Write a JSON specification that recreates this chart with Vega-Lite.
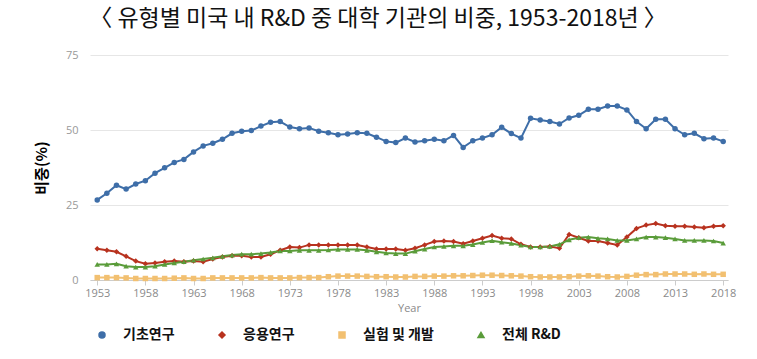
{
  "$schema": "https://vega.github.io/schema/vega-lite/v6.json",
  "width": 638,
  "height": 225,
  "autosize": {"type": "none"},
  "padding": {"left": 90, "top": 55, "right": 29, "bottom": 79},
  "background": "white",
  "title": {
    "text": "〈 유형별 미국 내 R&D 중 대학 기관의 비중, 1953-2018년 〉",
    "font": "Noto Sans CJK KR",
    "fontSize": 23,
    "fontWeight": "normal",
    "color": "#111111",
    "anchor": "middle",
    "dx": -31,
    "offset": 18
  },
  "data": {
    "values": [
      {"Year": 1953, "기초연구": 26.7, "응용연구": 10.4, "실험 및 개발": 0.8, "전체 R&D": 5.2},
      {"Year": 1954, "기초연구": 28.9, "응용연구": 9.9, "실험 및 개발": 0.8, "전체 R&D": 5.2},
      {"Year": 1955, "기초연구": 31.6, "응용연구": 9.4, "실험 및 개발": 0.8, "전체 R&D": 5.4},
      {"Year": 1956, "기초연구": 30.3, "응용연구": 7.9, "실험 및 개발": 0.7, "전체 R&D": 4.6},
      {"Year": 1957, "기초연구": 32.0, "응용연구": 6.3, "실험 및 개발": 0.5, "전체 R&D": 4.3},
      {"Year": 1958, "기초연구": 33.1, "응용연구": 5.4, "실험 및 개발": 0.5, "전체 R&D": 4.3},
      {"Year": 1959, "기초연구": 35.6, "응용연구": 5.7, "실험 및 개발": 0.5, "전체 R&D": 4.6},
      {"Year": 1960, "기초연구": 37.4, "응용연구": 6.1, "실험 및 개발": 0.5, "전체 R&D": 5.2},
      {"Year": 1961, "기초연구": 39.2, "응용연구": 6.3, "실험 및 개발": 0.6, "전체 R&D": 5.7},
      {"Year": 1962, "기초연구": 40.2, "응용연구": 6.1, "실험 및 개발": 0.7, "전체 R&D": 6.1},
      {"Year": 1963, "기초연구": 42.7, "응용연구": 6.3, "실험 및 개발": 0.5, "전체 R&D": 6.6},
      {"Year": 1964, "기초연구": 44.7, "응용연구": 6.1, "실험 및 개발": 0.5, "전체 R&D": 7.0},
      {"Year": 1965, "기초연구": 45.6, "응용연구": 7.0, "실험 및 개발": 0.7, "전체 R&D": 7.4},
      {"Year": 1966, "기초연구": 46.9, "응용연구": 7.7, "실험 및 개발": 0.7, "전체 R&D": 7.9},
      {"Year": 1967, "기초연구": 48.9, "응용연구": 8.1, "실험 및 개발": 0.7, "전체 R&D": 8.3},
      {"Year": 1968, "기초연구": 49.6, "응용연구": 8.1, "실험 및 개발": 0.7, "전체 R&D": 8.6},
      {"Year": 1969, "기초연구": 49.8, "응용연구": 7.7, "실험 및 개발": 0.7, "전체 R&D": 8.6},
      {"Year": 1970, "기초연구": 51.3, "응용연구": 7.7, "실험 및 개발": 0.8, "전체 R&D": 8.8},
      {"Year": 1971, "기초연구": 52.6, "응용연구": 8.6, "실험 및 개발": 0.7, "전체 R&D": 9.2},
      {"Year": 1972, "기초연구": 52.8, "응용연구": 9.9, "실험 및 개발": 0.7, "전체 R&D": 9.7},
      {"Year": 1973, "기초연구": 51.0, "응용연구": 11.0, "실험 및 개발": 0.7, "전체 R&D": 9.7},
      {"Year": 1974, "기초연구": 50.4, "응용연구": 10.8, "실험 및 개발": 0.8, "전체 R&D": 9.9},
      {"Year": 1975, "기초연구": 50.7, "응용연구": 11.7, "실험 및 개발": 0.8, "전체 R&D": 9.9},
      {"Year": 1976, "기초연구": 49.6, "응용연구": 11.7, "실험 및 개발": 0.8, "전체 R&D": 9.9},
      {"Year": 1977, "기초연구": 49.1, "응용연구": 11.7, "실험 및 개발": 1.1, "전체 R&D": 10.0},
      {"Year": 1978, "기초연구": 48.4, "응용연구": 11.7, "실험 및 개발": 1.3, "전체 R&D": 10.2},
      {"Year": 1979, "기초연구": 48.7, "응용연구": 11.7, "실험 및 개발": 1.3, "전체 R&D": 10.2},
      {"Year": 1980, "기초연구": 49.1, "응용연구": 11.7, "실험 및 개발": 1.3, "전체 R&D": 10.2},
      {"Year": 1981, "기초연구": 48.9, "응용연구": 11.0, "실험 및 개발": 1.2, "전체 R&D": 9.9},
      {"Year": 1982, "기초연구": 47.6, "응용연구": 10.3, "실험 및 개발": 1.1, "전체 R&D": 9.4},
      {"Year": 1983, "기초연구": 46.2, "응용연구": 10.3, "실험 및 개발": 1.1, "전체 R&D": 9.0},
      {"Year": 1984, "기초연구": 45.8, "응용연구": 10.3, "실험 및 개발": 1.0, "전체 R&D": 8.8},
      {"Year": 1985, "기초연구": 47.3, "응용연구": 9.9, "실험 및 개발": 1.0, "전체 R&D": 8.8},
      {"Year": 1986, "기초연구": 46.0, "응용연구": 10.6, "실험 및 개발": 1.2, "전체 R&D": 9.6},
      {"Year": 1987, "기초연구": 46.4, "응용연구": 11.7, "실험 및 개발": 1.2, "전체 R&D": 10.3},
      {"Year": 1988, "기초연구": 46.9, "응용연구": 12.8, "실험 및 개발": 1.3, "전체 R&D": 11.0},
      {"Year": 1989, "기초연구": 46.4, "응용연구": 13.0, "실험 및 개발": 1.3, "전체 R&D": 11.2},
      {"Year": 1990, "기초연구": 48.2, "응용연구": 12.8, "실험 및 개발": 1.4, "전체 R&D": 11.4},
      {"Year": 1991, "기초연구": 44.2, "응용연구": 12.1, "실험 및 개발": 1.4, "전체 R&D": 11.4},
      {"Year": 1992, "기초연구": 46.4, "응용연구": 13.0, "실험 및 개발": 1.5, "전체 R&D": 11.8},
      {"Year": 1993, "기초연구": 47.3, "응용연구": 13.9, "실험 및 개발": 1.6, "전체 R&D": 12.5},
      {"Year": 1994, "기초연구": 48.4, "응용연구": 14.8, "실험 및 개발": 1.6, "전체 R&D": 13.1},
      {"Year": 1995, "기초연구": 50.9, "응용연구": 13.9, "실험 및 개발": 1.5, "전체 R&D": 12.6},
      {"Year": 1996, "기초연구": 48.8, "응용연구": 13.7, "실험 및 개발": 1.4, "전체 R&D": 12.2},
      {"Year": 1997, "기초연구": 47.3, "응용연구": 11.9, "실험 및 개발": 1.3, "전체 R&D": 11.6},
      {"Year": 1998, "기초연구": 53.9, "응용연구": 11.0, "실험 및 개발": 1.1, "전체 R&D": 11.0},
      {"Year": 1999, "기초연구": 53.3, "응용연구": 11.0, "실험 및 개발": 1.0, "전체 R&D": 11.0},
      {"Year": 2000, "기초연구": 52.8, "응용연구": 11.2, "실험 및 개발": 1.0, "전체 R&D": 11.2},
      {"Year": 2001, "기초연구": 52.0, "응용연구": 10.6, "실험 및 개발": 1.0, "전체 R&D": 11.9},
      {"Year": 2002, "기초연구": 54.0, "응용연구": 15.2, "실험 및 개발": 1.1, "전체 R&D": 13.4},
      {"Year": 2003, "기초연구": 54.9, "응용연구": 14.1, "실험 및 개발": 1.3, "전체 R&D": 14.1},
      {"Year": 2004, "기초연구": 56.9, "응용연구": 13.0, "실험 및 개발": 1.4, "전체 R&D": 14.3},
      {"Year": 2005, "기초연구": 56.9, "응용연구": 13.0, "실험 및 개발": 1.3, "전체 R&D": 13.9},
      {"Year": 2006, "기초연구": 58.0, "응용연구": 12.3, "실험 및 개발": 1.1, "전체 R&D": 13.7},
      {"Year": 2007, "기초연구": 58.0, "응용연구": 11.7, "실험 및 개발": 1.0, "전체 R&D": 13.2},
      {"Year": 2008, "기초연구": 56.7, "응용연구": 14.3, "실험 및 개발": 1.2, "전체 R&D": 13.2},
      {"Year": 2009, "기초연구": 52.8, "응용연구": 17.2, "실험 및 개발": 1.6, "전체 R&D": 13.7},
      {"Year": 2010, "기초연구": 50.4, "응용연구": 18.3, "실험 및 개발": 1.8, "전체 R&D": 14.3},
      {"Year": 2011, "기초연구": 53.6, "응용연구": 18.8, "실험 및 개발": 1.8, "전체 R&D": 14.3},
      {"Year": 2012, "기초연구": 53.6, "응용연구": 18.1, "실험 및 개발": 2.0, "전체 R&D": 14.1},
      {"Year": 2013, "기초연구": 50.4, "응용연구": 17.9, "실험 및 개발": 2.0, "전체 R&D": 13.7},
      {"Year": 2014, "기초연구": 48.4, "응용연구": 17.9, "실험 및 개발": 2.0, "전체 R&D": 13.2},
      {"Year": 2015, "기초연구": 48.9, "응용연구": 17.7, "실험 및 개발": 1.9, "전체 R&D": 13.2},
      {"Year": 2016, "기초연구": 47.1, "응용연구": 17.4, "실험 및 개발": 2.0, "전체 R&D": 13.2},
      {"Year": 2017, "기초연구": 47.3, "응용연구": 17.9, "실험 및 개발": 1.9, "전체 R&D": 13.0},
      {"Year": 2018, "기초연구": 46.2, "응용연구": 18.1, "실험 및 개발": 1.9, "전체 R&D": 12.3}
    ]
  },
  "transform": [
    {"fold": ["기초연구", "응용연구", "실험 및 개발", "전체 R&D"], "as": ["유형", "비중"]}
  ],
  "encoding": {
    "x": {
      "field": "Year",
      "type": "quantitative",
      "scale": {"domain": [1952.25, 2018.5], "nice": false, "zero": false},
      "axis": {
        "values": [1953, 1958, 1963, 1968, 1973, 1978, 1983, 1988, 1993, 1998, 2003, 2008, 2013, 2018],
        "format": "d",
        "title": "Year",
        "titleFont": "Open Sans",
        "titleFontSize": 11,
        "titleFontWeight": "normal",
        "titleColor": "#8a8a8a",
        "titlePadding": 4,
        "labelFont": "Open Sans",
        "labelFontSize": 11,
        "labelColor": "#8a8a8a",
        "labelPadding": 2,
        "labelFlush": false,
        "tickSize": 5,
        "tickColor": "#cccccc",
        "domainColor": "#cccccc",
        "grid": false
      }
    },
    "y": {
      "field": "비중",
      "type": "quantitative",
      "scale": {"domain": [0, 75], "nice": false},
      "axis": {
        "values": [0, 25, 50, 75],
        "title": "비중(%)",
        "titleFont": "Noto Sans CJK KR",
        "titleFontSize": 15,
        "titleFontWeight": "bold",
        "titleColor": "#000000",
        "titlePadding": 16,
        "labelFont": "Open Sans",
        "labelFontSize": 11,
        "labelColor": "#999999",
        "labelPadding": 12,
        "ticks": false,
        "domain": false,
        "gridColor": "#e6e6e6"
      }
    },
    "color": {
      "field": "유형",
      "type": "nominal",
      "scale": {
        "domain": ["기초연구", "응용연구", "실험 및 개발", "전체 R&D"],
        "range": ["#3e6ea8", "#b8321f", "#f2c071", "#5a9c3a"]
      },
      "legend": {
        "orient": "none",
        "legendX": 5,
        "legendY": 273,
        "direction": "horizontal",
        "title": null,
        "labelFont": "Noto Sans CJK KR",
        "labelFontSize": 14,
        "labelFontWeight": "bold",
        "labelColor": "#111111",
        "symbolSize": 36,
        "labelOffset": 14,
        "columnPadding": 40
      }
    }
  },
  "layer": [
    {"mark": {"type": "line", "strokeWidth": 2}},
    {
      "mark": {"type": "point", "filled": true, "opacity": 1, "size": 30},
      "encoding": {
        "shape": {
          "field": "유형",
          "type": "nominal",
          "scale": {
            "domain": ["기초연구", "응용연구", "실험 및 개발", "전체 R&D"],
            "range": ["circle", "diamond", "square", "triangle-up"]
          },
          "legend": {
            "orient": "none",
            "legendX": 5,
            "legendY": 273,
            "direction": "horizontal",
            "title": null,
            "labelFont": "Noto Sans CJK KR",
            "labelFontSize": 14,
            "labelFontWeight": "bold",
            "labelColor": "#111111",
            "symbolSize": 36,
            "labelOffset": 14,
            "columnPadding": 40
          }
        }
      }
    }
  ],
  "config": {"view": {"stroke": null}}
}
